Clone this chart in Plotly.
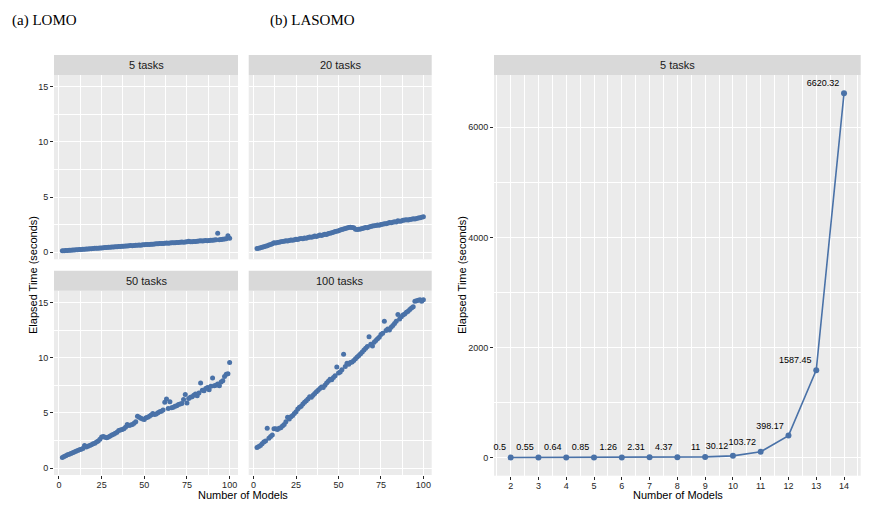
import plotly.graph_objects as go

W, H = 871, 511

models_lomo = list(range(2, 101))

tasks5 = [0.14,0.15,0.16,0.17,0.18,0.19,0.21,0.22,0.23,0.24,
          0.25,0.26,0.27,0.29,0.30,0.31,0.32,0.33,0.35,0.36,
          0.37,0.38,0.39,0.40,0.42,0.43,0.44,0.45,0.46,0.48,
          0.49,0.50,0.51,0.52,0.53,0.55,0.56,0.57,0.58,0.59,
          0.61,0.60,0.62,0.64,0.65,0.66,0.65,0.68,0.69,0.70,
          0.71,0.72,0.74,0.73,0.75,0.77,0.78,0.79,0.80,0.81,
          0.82,0.84,0.83,0.85,0.87,0.86,0.88,0.90,0.89,0.91,
          0.93,0.92,0.94,0.96,1.00,0.95,0.97,0.99,0.98,1.01,
          1.02,1.04,1.03,1.05,1.07,1.06,1.08,1.10,1.09,1.12,
          1.14,1.72,1.13,1.16,1.18,1.20,1.24,1.50,1.28]

tasks20 = [0.35,0.38,0.42,0.46,0.50,0.55,0.60,0.66,0.72,0.78,
           0.88,0.84,0.90,0.92,0.96,0.98,1.00,1.05,1.03,1.08,
           1.12,1.10,1.15,1.18,1.16,1.22,1.26,1.24,1.30,1.28,
           1.34,1.38,1.36,1.42,1.48,1.44,1.50,1.56,1.52,1.60,
           1.64,1.62,1.70,1.74,1.78,1.82,1.88,1.92,1.96,2.02,
           2.06,2.12,2.16,2.20,2.24,2.28,2.26,2.22,2.10,2.06,
           2.08,2.12,2.15,2.20,2.25,2.22,2.30,2.34,2.38,2.40,
           2.42,2.48,2.46,2.52,2.55,2.60,2.58,2.64,2.70,2.68,
           2.72,2.78,2.74,2.86,2.82,2.84,2.90,2.92,2.96,2.94,
           2.98,3.00,3.04,3.02,3.06,3.10,3.14,3.18,3.22]

tasks50 = [0.95,1.05,1.12,1.20,1.25,1.32,1.38,1.45,1.52,1.58,
           1.65,1.70,1.78,2.05,1.90,1.98,2.05,2.12,2.20,2.25,
           2.35,2.45,2.60,2.80,2.85,2.78,2.75,2.82,2.90,3.00,
           3.05,3.15,3.25,3.40,3.45,3.50,3.55,3.70,3.95,3.85,
           3.90,3.95,4.05,4.20,4.70,4.60,4.50,4.45,4.40,4.55,
           4.60,4.70,4.80,4.95,4.85,4.90,5.00,5.10,5.15,5.25,
           5.95,6.25,5.40,6.00,5.45,5.50,5.60,5.65,5.75,5.80,
           5.85,6.20,6.65,5.90,6.30,6.40,6.45,6.60,6.70,6.55,
           6.80,7.70,7.05,7.00,7.20,7.30,7.10,7.40,8.15,7.45,
           7.50,7.60,7.45,7.80,7.90,8.30,8.50,8.55,9.55]

tasks100 = [1.85,1.95,2.05,2.20,2.35,2.45,3.60,2.70,2.85,3.00,
            3.55,3.55,3.50,3.60,3.65,3.80,3.95,4.20,4.60,4.45,
            4.65,4.75,4.95,5.10,5.35,5.50,5.60,5.80,5.95,6.10,
            6.25,6.45,6.40,6.60,6.75,6.90,7.05,7.20,7.35,7.30,
            7.50,7.70,7.85,8.05,8.00,8.20,8.35,9.15,8.60,8.70,
            8.90,10.30,9.20,9.50,9.40,9.55,9.60,9.75,9.90,10.05,
            10.20,10.35,10.50,10.70,10.85,11.00,11.90,11.20,11.05,11.40,
            11.55,11.70,11.85,12.10,12.20,13.30,12.45,12.60,12.50,12.75,
            12.90,13.10,13.30,13.90,13.50,13.70,13.85,13.95,14.10,14.20,
            14.35,14.50,14.60,15.10,15.15,15.20,15.25,15.10,15.25]

facet_labels = ["5 tasks", "20 tasks", "50 tasks", "100 tasks"]
lomo_series = [tasks5, tasks20, tasks50, tasks100]

models_lasomo = [2, 3, 4, 5, 6, 7, 8, 9, 10, 11, 12, 13, 14]
lasomo_time = [0.5, 0.55, 0.64, 0.85, 1.26, 2.31, 4.37, 11, 30.12, 103.72, 398.17, 1587.45, 6620.32]
lasomo_labels = ["0.5", "0.55", "0.64", "0.85", "1.26", "2.31", "4.37", "11", "30.12", "103.72", "398.17", "1587.45", "6620.32"]

BLUE = "#4a72a8"
PANEL = "#ebebeb"
STRIP = "#d9d9d9"
TICKC = "#262626"
FONT = "Liberation Sans, Arial, sans-serif"

def px_x(p):
    return p / W

def px_y(p):
    return 1 - p / H

# panel pixel boxes (left, top, right, bottom)
boxes = [
    (54, 75, 238, 259.3),
    (248.7, 75, 431.7, 259.3),
    (54, 290.7, 238, 475),
    (248.7, 290.7, 431.7, 475),
]
right_box = (494, 75, 860.7, 475.7)

fig = go.Figure()
layout = dict(width=W, height=H, margin=dict(l=0, r=0, t=0, b=0),
              paper_bgcolor="white", plot_bgcolor=PANEL, showlegend=False,
              font=dict(family=FONT, color=TICKC))
shapes = []
annotations = []

for i, (ys, lab, box) in enumerate(zip(lomo_series, facet_labels, boxes)):
    n = i + 1
    xa = "xaxis" if n == 1 else f"xaxis{n}"
    ya = "yaxis" if n == 1 else f"yaxis{n}"
    xr = "x" if n == 1 else f"x{n}"
    yr = "y" if n == 1 else f"y{n}"
    fig.add_trace(go.Scatter(x=models_lomo, y=ys, mode="markers",
                             marker=dict(color=BLUE, size=5, line=dict(width=0)),
                             xaxis=xr, yaxis=yr, hoverinfo="skip"))
    l, t, r, b = box
    bottom_row = i >= 2
    left_col = i % 2 == 0
    layout[xa] = dict(domain=[px_x(l), px_x(r)], anchor=yr, range=[-2.9, 104.9],
                      tickvals=[0, 25, 50, 75, 100], showticklabels=bottom_row,
                      ticks="outside" if bottom_row else "", ticklen=3, tickcolor=TICKC,
                      ticklabelstandoff=-2,
                      tickfont=dict(size=9, color=TICKC, family=FONT),
                      showgrid=True, gridcolor="white", gridwidth=1.1, zeroline=False,
                      showline=False,
                      minor=dict(tickvals=[12.5, 37.5, 62.5, 87.5], showgrid=True,
                                 gridcolor="white", gridwidth=0.5, ticks=""))
    layout[ya] = dict(domain=[px_y(b), px_y(t)], anchor=xr, range=[-0.63, 16.06],
                      tickvals=[0, 5, 10, 15], showticklabels=left_col,
                      ticks="outside" if left_col else "", ticklen=3, tickcolor=TICKC,
                      tickfont=dict(size=9, color=TICKC, family=FONT),
                      showgrid=True, gridcolor="white", gridwidth=1.1, zeroline=False,
                      showline=False,
                      minor=dict(tickvals=[2.5, 7.5, 12.5], showgrid=True,
                                 gridcolor="white", gridwidth=0.5, ticks=""))
    # strip
    shapes.append(dict(type="rect", xref="paper", yref="paper",
                       x0=px_x(l), x1=px_x(r), y0=px_y(t), y1=px_y(t - 20),
                       fillcolor=STRIP, line=dict(width=0), layer="below"))
    annotations.append(dict(text=lab, xref="paper", yref="paper",
                            x=px_x((l + r) / 2), y=px_y(t - 10), showarrow=False,
                            xanchor="center", yanchor="middle",
                            font=dict(size=11, color="#1a1a1a", family=FONT)))

# right panel
l, t, r, b = right_box
fig.add_trace(go.Scatter(x=models_lasomo, y=lasomo_time, mode="lines+markers+text",
                         text=lasomo_labels, textposition="top left",
                         textfont=dict(size=9, color="black", family=FONT),
                         line=dict(color=BLUE, width=1.6),
                         marker=dict(color=BLUE, size=6),
                         xaxis="x5", yaxis="y5", hoverinfo="skip", cliponaxis=False))
layout["xaxis5"] = dict(domain=[px_x(l), px_x(r)], anchor="y5", range=[1.4, 14.6],
                        tickvals=models_lasomo, ticks="outside", ticklen=3, tickcolor=TICKC,
                        ticklabelstandoff=-2,
                        tickfont=dict(size=9, color=TICKC, family=FONT),
                        showgrid=True, gridcolor="white", gridwidth=1.1, zeroline=False,
                        minor=dict(tickvals=[v + 0.5 for v in [1] + models_lasomo],
                                   showgrid=True, gridcolor="white", gridwidth=0.5, ticks=""))
layout["yaxis5"] = dict(domain=[px_y(b), px_y(t)], anchor="x5", range=[-331, 6951],
                        tickvals=[0, 2000, 4000, 6000], ticks="outside", ticklen=3, tickcolor=TICKC,
                        tickfont=dict(size=9, color=TICKC, family=FONT),
                        showgrid=True, gridcolor="white", gridwidth=1.1, zeroline=False,
                        minor=dict(tickvals=[1000, 3000, 5000], showgrid=True,
                                   gridcolor="white", gridwidth=0.5, ticks=""))
shapes.append(dict(type="rect", xref="paper", yref="paper",
                   x0=px_x(l), x1=px_x(r), y0=px_y(t), y1=px_y(t - 20),
                   fillcolor=STRIP, line=dict(width=0), layer="below"))
annotations.append(dict(text="5 tasks", xref="paper", yref="paper",
                        x=px_x((l + r) / 2), y=px_y(t - 10), showarrow=False,
                        xanchor="center", yanchor="middle",
                        font=dict(size=11, color="#1a1a1a", family=FONT)))

# axis titles
title_font = dict(size=11, color="black", family=FONT)
for tx, cx, cy, ang in [("Number of Models", 243, 494.5, 0),
                        ("Elapsed Time (seconds)", 33, 275, -90),
                        ("Number of Models", 677.5, 494.5, 0),
                        ("Elapsed Time (seconds)", 462, 275, -90)]:
    annotations.append(dict(text=tx, xref="paper", yref="paper",
                            x=px_x(cx), y=px_y(cy), showarrow=False, textangle=ang,
                            xanchor="center", yanchor="middle", font=title_font))

# sub-figure captions
SERIF = "Liberation Serif, Times New Roman, serif"
annotations.append(dict(text="(a) LOMO", xref="paper", yref="paper",
                        x=px_x(10), y=px_y(20), showarrow=False,
                        xanchor="left", yanchor="middle",
                        font=dict(size=15, color="black", family=SERIF)))
annotations.append(dict(text="(b) LASOMO", xref="paper", yref="paper",
                        x=px_x(268), y=px_y(20), showarrow=False,
                        xanchor="left", yanchor="middle",
                        font=dict(size=15, color="black", family=SERIF)))

layout["shapes"] = shapes
layout["annotations"] = annotations
fig.update_layout(**layout)
fig.write_html("out.html")
